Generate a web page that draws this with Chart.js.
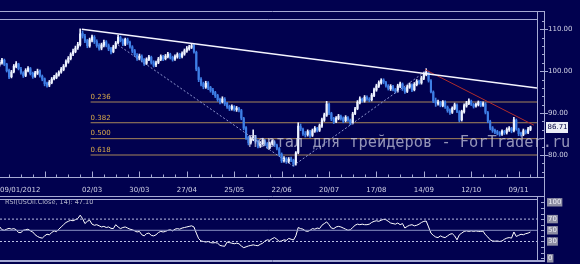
<!DOCTYPE html>
<html>
<head>
<meta charset="utf-8">
<script src="https://cdn.jsdelivr.net/npm/chart.js@4.4.1/dist/chart.umd.min.js"></script>
<style>
  html, body { margin: 0; padding: 0; width: 580px; height: 264px; overflow: hidden; background: #01014f; }
  canvas { position: absolute; left: 0; }
  #price { top: 0; }
  #rsi { top: 195px; }
</style>
</head>
<body>
<canvas id="price" width="580" height="199"></canvas>
<canvas id="rsi" width="580" height="69"></canvas>
<script>
// daily candles, 09/01/2012 .. 16/11/2012 (one per weekday)
const openP = [
  101.6,102.0,102.6,101.7,100.2, 98.7,99.9,101.1,101.7,100.5, 99.6,99.0,100.1,100.6,99.5, 98.8,99.5,100.1,98.8,98.2,
  97.1,96.7,97.3,98.2,98.5, 99.1,99.8,100.4,101.3,102.2, 103.0,104.1,104.7,105.6,106.3, 109.0,108.3,107.3,106.0,107.4,
  108.1,107.1,106.2,105.5,106.2, 107.0,106.1,105.4,104.7,105.7, 106.8,108.0,107.4,106.4,107.5, 106.9,105.8,104.9,103.8,103.1,
  103.5,102.7,101.9,102.8,103.3, 102.2,101.5,102.1,102.8,103.4, 103.0,103.5,104.0,103.3,102.9, 103.4,104.1,103.5,104.1,104.8,
  105.3,105.7,106.2,104.5,100.6, 98.1,97.0,96.2,97.2,96.1, 95.5,94.9,94.2,93.3,92.7, 93.3,92.3,91.6,91.1,91.5,
  90.8,91.1,90.6,88.7,86.5, 84.2,83.0,83.7,84.3,83.3, 82.2,82.7,83.4,82.7,81.8, 82.8,83.1,82.3,81.5,80.2,
  78.7,79.1,78.5,79.1,78.7, 77.9,80.6,86.8,86.1,85.0, 84.9,85.5,84.7,85.7,86.3, 85.9,86.9,88.3,89.5,92.1,
  89.9,88.7,88.0,88.7,89.2, 88.8,88.2,88.9,88.3,87.7, 89.9,91.1,92.5,93.3,92.9, 93.7,93.3,93.2,94.2,95.5,
  96.4,97.2,97.9,97.3,96.5, 95.8,96.3,95.6,95.3,96.4, 96.9,95.9,95.2,96.2,96.7, 95.6,96.8,97.5,97.2,98.3,
  99.2,99.7,97.7,95.0,93.0, 92.3,92.5,91.8,92.6,91.4, 90.7,90.2,91.1,91.9,90.3, 88.4,90.3,91.7,92.3,92.8,
  92.0,91.7,92.0,92.5,91.9, 92.2,90.1,88.0,86.5,85.9, 85.6,85.3,85.0,85.6,85.4, 86.0,86.3,85.8,88.3,86.1,
  85.2,84.9,85.7,85.4,86.1
];
const highP = [
  102.6,103.1,102.9,101.9,100.5, 100.2,101.6,102.3,101.9,100.9, 99.9,100.6,101.1,100.9,99.8, 100.0,100.5,100.3,99.1,98.4,
  97.4,97.8,98.5,99.0,99.6, 100.1,100.9,101.6,102.7,103.5, 104.4,105.3,106.0,106.9,110.1, 109.6,108.8,107.6,107.9,108.6,
  108.5,107.5,106.6,106.7,107.4, 107.3,106.5,105.7,106.2,107.1, 108.6,108.4,107.7,107.9,107.9, 107.2,106.1,105.2,104.2,104.1,
  103.9,103.0,103.2,103.8,103.6, 102.5,102.4,103.3,103.9,103.8, 104.0,104.5,104.3,103.6,103.9, 104.4,104.3,104.6,105.3,105.9,
  106.2,106.6,106.4,104.8,101.0, 98.5,97.4,97.6,97.5,96.4, 95.9,95.2,94.5,93.6,93.9, 93.7,92.6,91.9,92.0,91.8,
  91.6,91.4,90.9,89.0,86.8, 84.5,84.2,86.0,84.7,83.6, 83.2,84.0,83.7,83.0,83.1, 83.6,83.4,82.6,81.8,80.5,
  79.6,79.4,79.4,79.5,79.0, 80.8,87.7,87.4,86.4,85.6, 86.0,85.9,86.2,86.8,86.6, 87.4,88.8,90.0,92.8,92.4,
  90.2,89.0,89.2,89.7,89.5, 89.1,89.4,89.2,88.6,90.2, 91.4,93.0,93.9,93.6,94.2, 94.1,93.7,94.7,96.0,96.9,
  97.7,98.2,98.2,97.6,96.8, 96.8,96.6,95.9,96.9,97.4, 97.2,96.2,96.7,97.2,97.0, 97.3,98.0,97.9,98.8,99.8,
  100.6,100.0,98.0,95.3,93.6, 93.1,92.8,93.0,92.9,91.7, 91.0,91.5,92.4,92.2,90.6, 90.7,92.2,92.8,93.4,93.1,
  92.3,92.4,92.9,92.8,92.7, 92.5,90.4,88.3,86.8,86.2, 85.9,85.6,86.0,85.9,86.5, 86.8,86.6,89.0,88.6,86.4,
  85.5,86.2,86.0,86.6,86.9
];
const lowP = [
  101.2,101.7,101.3,99.8,98.2, 98.4,99.6,100.8,100.3,99.3, 98.5,98.7,99.8,99.1,98.3, 98.5,99.2,98.6,97.7,96.5,
  96.2,96.3,97.0,97.9,98.2, 98.8,99.5,100.1,101.0,101.9, 102.7,103.7,104.4,105.2,106.0, 107.9,106.8,105.6,105.7,107.0,
  106.6,105.7,105.0,105.1,105.8, 105.8,104.9,104.1,104.4,105.4, 106.5,107.0,106.1,106.1,106.4, 105.5,104.4,103.5,102.6,102.7,
  102.2,101.4,101.6,102.5,101.7, 101.0,101.1,101.8,102.5,102.5, 102.7,103.2,102.9,102.4,102.6, 103.1,103.0,103.2,103.8,104.5,
  105.0,105.4,104.3,100.1,97.5, 96.5,95.8,95.9,95.6,95.0, 94.4,93.7,92.8,92.2,92.4, 91.8,91.1,90.6,90.7,90.5,
  90.4,90.3,88.4,86.0,83.7, 82.4,82.6,83.4,82.8,81.7, 81.8,82.4,82.2,81.5,81.5, 82.4,82.0,81.2,79.7,78.2,
  78.3,78.0,78.1,78.4,77.3, 77.6,80.3,85.8,84.7,84.3, 84.5,84.2,84.4,85.4,85.5, 85.6,86.6,88.0,89.2,89.6,
  88.2,87.5,87.7,88.4,88.3, 87.7,87.9,88.0,87.2,87.4, 89.6,90.8,92.2,92.6,92.6, 93.0,92.7,92.9,93.9,95.2,
  96.1,96.9,97.0,96.2,95.5, 95.4,95.3,94.8,95.0,96.1, 95.4,94.7,94.9,95.9,95.1, 95.3,96.5,96.9,96.9,98.0,
  98.9,97.4,94.8,92.5,91.6, 91.9,91.5,91.5,91.1,90.2, 89.7,89.9,90.8,90.1,87.9, 88.1,90.0,91.4,92.0,91.8,
  91.2,91.4,91.7,91.5,91.6, 89.8,87.7,86.0,85.4,85.1, 84.8,84.5,84.7,84.9,85.0, 85.6,85.3,85.5,85.9,84.6,
  84.5,84.6,85.0,85.1,85.8
];
const closeP = [
  102.1,102.7,101.6,100.1,98.6, 99.8,101.2,101.8,100.6,99.7, 98.9,100.2,100.7,99.4,98.7, 99.6,100.0,98.9,98.1,97.0,
  96.6,97.4,98.1,98.6,99.2, 99.7,100.5,101.2,102.3,103.1, 104.0,104.8,105.5,106.4,108.9, 108.4,107.2,106.1,107.5,108.2,
  107.0,106.1,105.4,106.3,106.9, 106.2,105.3,104.6,105.8,106.7, 108.1,107.3,106.5,107.6,106.8, 105.9,104.8,103.9,103.0,103.6,
  102.6,101.8,102.9,103.4,102.1, 101.4,102.0,102.9,103.5,102.9, 103.6,104.1,103.2,102.8,103.5, 104.0,103.4,104.2,104.9,105.4,
  105.8,106.1,104.6,100.5,98.0, 96.9,96.3,97.1,96.0,95.4, 94.8,94.1,93.2,92.6,93.4, 92.2,91.5,91.0,91.6,90.9,
  91.2,90.7,88.8,86.4,84.1, 82.9,83.8,84.4,83.2,82.1, 82.8,83.5,82.6,81.9,82.7, 83.2,82.4,81.6,80.1,78.6,
  79.2,78.4,79.0,78.8,77.8, 80.5,86.9,86.2,85.1,84.8, 85.6,84.6,85.8,86.4,85.9, 87.0,88.4,89.6,92.2,90.0,
  88.6,87.9,88.8,89.3,88.7, 88.1,89.0,88.4,87.6,89.8, 91.0,92.6,93.4,93.0,93.8, 93.4,93.1,94.3,95.6,96.5,
  97.3,97.8,97.4,96.6,95.9, 96.4,95.7,95.2,96.5,97.0, 95.8,95.1,96.3,96.8,95.5, 96.9,97.6,97.3,98.4,99.3,
  99.8,97.8,95.1,92.9,92.4, 92.6,91.9,92.7,91.5,90.6, 90.1,91.2,92.0,90.4,88.3, 90.4,91.8,92.4,92.9,92.1,
  91.6,92.1,92.6,91.8,92.3, 90.2,88.1,86.4,85.8,85.5, 85.2,84.9,85.7,85.3,86.1, 86.4,85.7,88.4,86.2,85.1,
  84.9,85.8,85.3,86.2,86.71
];
const rsiVals = [
  56.5,51,50,52,53.5,52,53,51,46,46, 50,51,52,49,47,42,39,37,36,40,
  43,42,46,49,47.5,52,56,60,64,66, 68,67,69,71,77,71,62,66,68,61,
  59,60,58,56,57,55,56,53.5,53,60, 56,53,55,56,54,52,51,49,47,48,
  42,40,44,45,41,40,42,46,48,47, 48,50,51,49,52,53,52,54,55,56,
  57,58,56,45,35,31,30,29,30,28, 27.5,28,27,23,22,21.5,29,28,27,26,
  27,26,22,19,20.5,22,23,24,23,22.5, 25,27,31,33,32,35,37,34,30,31,
  33,32,35.5,34,32.7,40,55,53,52,49, 48,50,53,52,54,53,59,62,65,60,
  54,53,56,57,56,54,52,50,51,55, 59,61,60,61,60,60,61,64,66,67,
  66,68,69.5,69,66,63,62,61,63,60, 62,54,57,59,60,58,59,61,64,66,
  66.5,56,45,41,38,37,40,38,37,40, 43,44,40,33,42,45,48,49,48,49,
  48,49,48,48,48.5,42,38,33,31,30.5, 31,30,31,34,36,37,36,47,39,41,
  43,42,44,45,47.1
];

const tickIdx = [39, 59, 79, 99, 119, 139, 159, 179, 199, 219];
const tickLabels = ['02/03', '30/03', '27/04', '25/05', '22/06', '20/07', '17/08', '14/09', '12/10', '09/11'];
const firstDateLabel = '09/01/2012';
const priceTicks = [80, 90, 100, 110];
const rsiTicks = [0, 30, 50, 70, 100];
const rsiLevels = [70, 50, 30];

const fibNames = ['0.236', '0.382', '0.500', '0.618'];
const fibPrices = [92.65, 87.7, 83.9, 80.0];
const fibStart = 38.4;

// trend lines as [candle index, price]
const resistLine = [[34.7, 110.0], [226.75, 96.0]];
const redLine = [[179.5, 100.4], [225.5, 87.1]];
const dotLineA = [[49.9, 106.3], [123.8, 77.4]];
const dotLineB = [[123.8, 77.4], [180.3, 100.2]];

const lastPrice = 86.71;
const rsiTitle = 'RSI(USOil.Close, 14): 47.10';
const watermark = 'Портал для трейдеров - ForTrader.ru';

// look
const FRAME = '#a6aad4';
const TXT = '#d0d1e4';
const UP = '#eef3ff';
const DN = '#3f7fe6';
const X_MIN = 0.17, X_MAX = 226.75;

Chart.defaults.font.family = "'DejaVu Sans', sans-serif";

const idx = closeP.map((_, i) => i);
const pts = arr => arr.map(p => ({ x: p[0], y: p[1] }));
const candleCol = c => closeP[c.dataIndex] >= openP[c.dataIndex] ? UP : DN;
const flat = (v, color, dash) => ({
  type: 'line', data: [{ x: X_MIN, y: v }, { x: X_MAX, y: v }],
  borderColor: color, borderWidth: 1, borderDash: dash, pointRadius: 0
});

function seg(ctx, x1, y1, x2, y2) {
  ctx.beginPath(); ctx.moveTo(x1, y1); ctx.lineTo(x2, y2); ctx.stroke();
}

// frames, tick marks, labels and watermark of the price panel
const priceDecor = {
  id: 'priceDecor',
  afterDraw(chart) {
    const { ctx, chartArea: a, scales: { x, y } } = chart;
    const r = Math.round(a.right) + 0.5, b = Math.round(a.bottom) + 0.5;
    ctx.save();
    ctx.strokeStyle = FRAME; ctx.lineWidth = 1;
    seg(ctx, 0, 11.5, 545, 11.5);
    seg(ctx, 0, 19.5, r, 19.5);
    seg(ctx, r, 11, r, b);
    seg(ctx, 544.5, 11, 544.5, 196.5);
    seg(ctx, 0, b, 545, b);
    seg(ctx, 0, 196.5, 545, 196.5);
    // week ticks on the bottom border
    for (let i = 4; i < closeP.length; i += 5) {
      const px = Math.round(x.getPixelForValue(i)) + 0.5;
      seg(ctx, px, b - (i % 20 === 19 ? 6 : 3), px, b);
    }
    // price ticks on the right axis
    for (let v = 76; v <= 112; v += 2) {
      const py = Math.round(y.getPixelForValue(v)) + 0.5;
      if (v % 10 === 0) seg(ctx, 540, py, 548, py); else seg(ctx, 542, py, 545, py);
    }
    // fib labels
    ctx.fillStyle = '#d9aa4a';
    ctx.font = "7px 'DejaVu Sans'";
    ctx.textBaseline = 'bottom'; ctx.textAlign = 'left';
    fibPrices.forEach((p, k) => ctx.fillText(fibNames[k], x.getPixelForValue(fibStart), y.getPixelForValue(p) - 1.5));
    // first date label
    ctx.fillStyle = TXT; ctx.textBaseline = 'middle';
    ctx.fillText(firstDateLabel, 0, 190);
    // last price box
    const ly = y.getPixelForValue(lastPrice);
    ctx.fillStyle = '#eceef6';
    ctx.fillRect(546, Math.round(ly) - 5, 22, 11);
    ctx.fillStyle = '#000040';
    ctx.fillText(lastPrice.toFixed(2), 547.5, ly + 0.5);
    // watermark
    ctx.fillStyle = 'rgba(210,210,228,0.7)';
    ctx.font = "15.3px 'DejaVu Sans Mono'";
    ctx.fillText(watermark, 248, 143);
    ctx.restore();
  }
};

new Chart(document.getElementById('price'), {
  type: 'bar',
  data: {
    datasets: [
      ...fibPrices.map(p => ({
        type: 'line', data: [{ x: fibStart, y: p }, { x: X_MAX, y: p }],
        borderColor: '#a8875a', borderWidth: 1, pointRadius: 0, order: 6
      })),
      { data: idx.map(i => ({ x: i, y: [lowP[i], highP[i]] })), backgroundColor: candleCol,
        barThickness: 1, grouped: false, order: 5 },
      { data: idx.map(i => ({ x: i, y: [openP[i], closeP[i]] })), backgroundColor: candleCol,
        barThickness: 1.5, minBarLength: 1, grouped: false, order: 4 },
      { type: 'line', data: pts(dotLineA), borderColor: '#8f97cf', borderDash: [2, 2], borderWidth: 1, pointRadius: 0, order: 3 },
      { type: 'line', data: pts(dotLineB), borderColor: '#8f97cf', borderDash: [2, 2], borderWidth: 1, pointRadius: 0, order: 3 },
      { type: 'line', data: pts(redLine), borderColor: '#b02c2c', borderWidth: 1, pointRadius: 0, order: 2 },
      { type: 'line', data: pts(resistLine), borderColor: '#f4f4ff', borderWidth: 1.6, pointRadius: 0, order: 1 }
    ]
  },
  options: {
    responsive: false,
    animation: false,
    layout: { padding: { top: 19, left: 0, right: 0, bottom: 0 } },
    plugins: { legend: { display: false }, tooltip: { enabled: false } },
    scales: {
      x: {
        type: 'linear', min: X_MIN, max: X_MAX, offset: false,
        grid: { display: false, drawTicks: false }, border: { display: false },
        afterBuildTicks: s => { s.ticks = tickIdx.map(v => ({ value: v })); },
        afterFit: s => { s.height = 22; s.paddingLeft = 0; s.paddingRight = 0; },
        ticks: { autoSkip: false, maxRotation: 0, padding: 9, color: TXT, font: { size: 7 },
          callback: v => tickLabels[tickIdx.indexOf(v)] }
      },
      y: {
        position: 'right', min: 74.75, max: 112.46,
        grid: { display: false, drawTicks: false }, border: { display: false },
        afterBuildTicks: s => { s.ticks = priceTicks.map(v => ({ value: v })); },
        afterFit: s => { s.width = 43; s.paddingTop = 0; s.paddingBottom = 0; },
        ticks: { padding: 11, color: TXT, font: { size: 7 }, callback: v => v.toFixed(2) }
      }
    }
  },
  plugins: [priceDecor]
});

// frames and title of the RSI panel
const rsiDecor = {
  id: 'rsiDecor',
  afterDraw(chart) {
    const { ctx, chartArea: a, scales: { y } } = chart;
    const r = Math.round(a.right) + 0.5, b = Math.round(a.bottom) + 0.5;
    ctx.save();
    ctx.strokeStyle = FRAME; ctx.lineWidth = 1;
    seg(ctx, 0, 4.5, r, 4.5);
    seg(ctx, r, 1.5, r, b);
    seg(ctx, 544.5, 1.5, 544.5, 67);
    seg(ctx, 0, b, 545, b);
    seg(ctx, 0, 66.5, 545, 66.5);
    for (let v = 0; v <= 100; v += 10) {
      const py = Math.round(y.getPixelForValue(v)) + 0.5;
      seg(ctx, 541, py, 545, py);
    }
    ctx.fillStyle = '#b4b6cc';
    ctx.font = "6.5px 'DejaVu Sans'";
    ctx.textBaseline = 'middle';
    ctx.fillText(rsiTitle, 5, 7.5);
    ctx.restore();
  }
};

new Chart(document.getElementById('rsi'), {
  type: 'line',
  data: {
    datasets: [
      ...rsiLevels.map(v => v === 50 ? flat(v, '#8a92c4', []) : flat(v, '#bcc0e4', [2, 2])),
      { data: idx.map(i => ({ x: i, y: rsiVals[i] })), borderColor: '#ffffff', borderWidth: 1, pointRadius: 0 }
    ]
  },
  options: {
    responsive: false,
    animation: false,
    layout: { padding: { top: 4, left: 0, right: 0, bottom: 4 } },
    plugins: { legend: { display: false }, tooltip: { enabled: false } },
    scales: {
      x: { type: 'linear', display: false, min: X_MIN, max: X_MAX },
      y: {
        position: 'right', min: -3.04, max: 105.9,
        grid: { display: false, drawTicks: false }, border: { display: false },
        afterBuildTicks: s => { s.ticks = rsiTicks.map(v => ({ value: v })); },
        afterFit: s => { s.width = 43; s.paddingTop = 0; s.paddingBottom = 0; },
        ticks: { padding: 11, color: '#eeeef6', font: { size: 7 },
          showLabelBackdrop: true, backdropColor: '#8e8ea4',
          backdropPadding: { top: 0, bottom: 0, left: 1, right: 1 } }
      }
    }
  },
  plugins: [rsiDecor]
});
</script>
</body>
</html>
